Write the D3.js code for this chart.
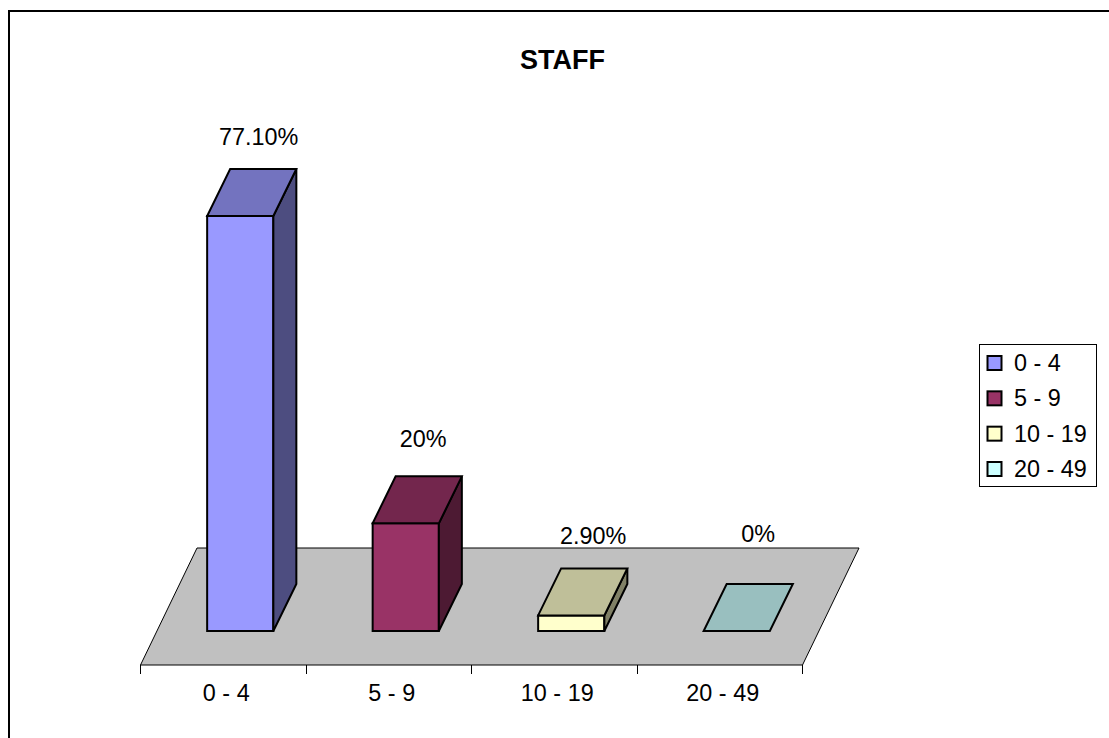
<!DOCTYPE html>
<html>
<head>
<meta charset="utf-8">
<title>STAFF</title>
<script src="https://cdn.jsdelivr.net/npm/d3@7/dist/d3.min.js"></script>
<style>
  html, body { margin: 0; padding: 0; background: #fff; overflow: hidden; }
  svg { display: block; }
  text { font-family: "Liberation Sans", Arial, sans-serif; fill: #000; }
</style>
</head>
<body>
<div id="chart"></div>
<script>
// Chart content
const chartTitle = "STAFF";
const categories = ["0 - 4", "5 - 9", "10 - 19", "20 - 49"];
const values = [77.1, 20, 2.9, 0];
const valueLabels = ["77.10%", "20%", "2.90%", "0%"];
const colors = ["#9999FF", "#993366", "#FFFFCC", "#CCFFFF"];

const width = 1109, height = 738;
const labelSize = 23.4;

// Floor parallelogram and the depth of each column
const floorLeft = 140.5, floorRight = 802.5, floorFront = 665;
const floorShift = { x: 56.5, y: -117 };
const barInset = { x: 17, y: -34 };   // column front face relative to the floor's front edge
const depth = { x: 23, y: -47 };
const pxPerUnit = 415 / 77.1;

// Value label placement relative to the back edge of each column top
const labelLift = [32, 37, 32, 50];
const labelNudge = [7, 6, 10.5, 10];

const svg = d3.select("#chart").append("svg")
  .attr("width", width).attr("height", height);

// Outer frame, open past the window's right and bottom edges
svg.append("rect")
  .attr("x", 9).attr("y", 11)
  .attr("width", width + 20).attr("height", height + 20)
  .attr("fill", "#fff").attr("stroke", "#000").attr("stroke-width", 2);

svg.append("text")
  .attr("x", 562.5).attr("y", 69)
  .attr("text-anchor", "middle")
  .attr("font-size", 27).attr("font-weight", "bold")
  .text(chartTitle);

const x = d3.scaleBand().domain(categories).range([floorLeft, floorRight]).paddingInner(0);
const y = d3.scaleLinear()
  .domain([0, 100])
  .range([floorFront + barInset.y, floorFront + barInset.y - 100 * pxPerUnit]);

const pathOf = pts => d3.line()(pts) + "Z";

// Floor
svg.append("path")
  .attr("d", pathOf([
    [floorLeft, floorFront],
    [floorRight, floorFront],
    [floorRight + floorShift.x, floorFront + floorShift.y],
    [floorLeft + floorShift.x, floorFront + floorShift.y]
  ]))
  .attr("fill", "#C0C0C0").attr("stroke", "#000").attr("stroke-width", 1);

// Category axis: ticks fall on band edges, labels centred in the bands
const axisG = svg.append("g").attr("transform", `translate(0,${floorFront})`);
const tickXs = categories.map(c => x(c)).concat(floorRight);
axisG.selectAll("line.tick").data(tickXs).join("line")
  .attr("class", "tick")
  .attr("x1", d => Math.floor(d) + 0.5).attr("x2", d => Math.floor(d) + 0.5)
  .attr("y1", 0).attr("y2", 9)
  .attr("stroke", "#000").attr("stroke-width", 1);
axisG.selectAll("text").data(categories).join("text")
  .attr("x", d => x(d) + x.bandwidth() / 2 + 3)
  .attr("y", 36)
  .attr("text-anchor", "middle")
  .attr("font-size", labelSize)
  .text(d => d);

// Columns
const barWidth = x.bandwidth() * 0.4;
const shade = (hex, k) => {
  const c = d3.rgb(hex);
  return d3.rgb(c.r * k, c.g * k, c.b * k).formatHex();
};

const bars = svg.selectAll("g.bar")
  .data(categories.map((c, i) => ({ c, i, v: values[i], color: colors[i], label: valueLabels[i] })))
  .join("g").attr("class", "bar")
  .attr("stroke", "#000").attr("stroke-width", 2).attr("stroke-linejoin", "miter");

bars.each(function (d) {
  const g = d3.select(this);
  const left = x(d.c) + (x.bandwidth() - barWidth) / 2 + barInset.x;
  const right = left + barWidth;
  const base = y(0), top = y(d.v);
  if (d.v > 0) {
    g.append("path").attr("fill", d.color)
      .attr("d", pathOf([[left, base], [right, base], [right, top], [left, top]]));
    g.append("path").attr("fill", shade(d.color, 0.5))
      .attr("d", pathOf([[right, base], [right + depth.x, base + depth.y], [right + depth.x, top + depth.y], [right, top]]));
  }
  g.append("path").attr("fill", shade(d.color, 0.75))
    .attr("d", pathOf([[left, top], [right, top], [right + depth.x, top + depth.y], [left + depth.x, top + depth.y]]));
  g.append("text")
    .attr("x", left + barWidth / 2 + depth.x / 2 + labelNudge[d.i])
    .attr("y", top + depth.y - labelLift[d.i] + 8)
    .attr("text-anchor", "middle")
    .attr("stroke", "none")
    .attr("font-size", labelSize)
    .text(d.label);
});

// Legend
const legend = svg.append("g");
legend.append("rect")
  .attr("x", 979.5).attr("y", 344.5).attr("width", 117).attr("height", 142)
  .attr("fill", "#fff").attr("stroke", "#000").attr("stroke-width", 1);
const rowY = d3.scalePoint().domain(categories).range([363, 469]);
const rows = legend.selectAll("g").data(categories).join("g")
  .attr("transform", d => `translate(0,${rowY(d)})`);
rows.append("rect")
  .attr("x", 987.5).attr("y", -7).attr("width", 14).attr("height", 14)
  .attr("fill", (d, i) => colors[i]).attr("stroke", "#000").attr("stroke-width", 2);
rows.append("text")
  .attr("x", 1014).attr("y", 8)
  .attr("font-size", labelSize)
  .text(d => d);
</script>
</body>
</html>
